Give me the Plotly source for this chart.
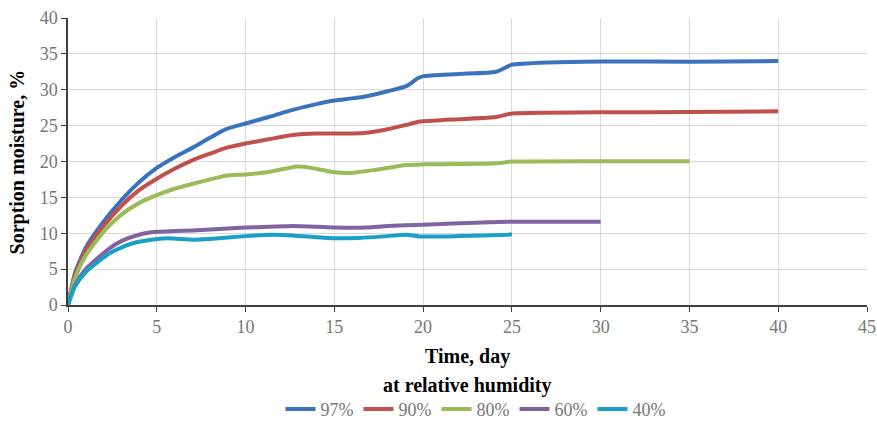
import plotly.graph_objects as go

# Time (days) and sorption moisture (%) for each relative humidity
x97 = [0, 0.4, 1, 2, 3, 4, 5, 6, 7, 8, 8.9, 10, 11.3, 12.66, 14, 15, 16, 16.8, 18, 19.05, 19.7, 20, 22, 24.1, 24.8, 25, 27, 30, 35, 40]
y97 = [0, 4.5, 8.0, 11.6, 14.6, 17.1, 19.1, 20.6, 21.9, 23.3, 24.5, 25.3, 26.2, 27.2, 28.0, 28.5, 28.8, 29.1, 29.8, 30.5, 31.6, 31.9, 32.2, 32.5, 33.3, 33.5, 33.8, 33.95, 33.9, 34.0]

x90 = [0, 0.4, 1, 2, 3, 4, 5, 6, 7.03, 8, 8.9, 10, 11.3, 12.66, 14, 15, 16, 16.8, 18, 19.05, 19.7, 20, 22, 24.1, 24.8, 25, 27, 30, 35, 40]
y90 = [0, 4.2, 7.6, 11.0, 13.8, 16.0, 17.6, 19.0, 20.2, 21.1, 21.9, 22.5, 23.1, 23.7, 23.9, 23.9, 23.9, 24.0, 24.5, 25.1, 25.5, 25.6, 25.9, 26.2, 26.6, 26.7, 26.8, 26.85, 26.9, 27.0]

x80 = [0, 0.4, 1, 2, 3, 4, 5, 6, 7.03, 8, 8.9, 10, 11.2, 12.9, 13.5, 15, 15.9, 17.2, 19.05, 20, 22, 24.1, 24.8, 25, 30, 35]
y80 = [0, 3.8, 6.9, 10.2, 12.6, 14.2, 15.3, 16.2, 16.9, 17.5, 18.0, 18.2, 18.5, 19.3, 19.2, 18.5, 18.4, 18.8, 19.5, 19.6, 19.65, 19.75, 19.95, 20.0, 20.05, 20.05]

x60 = [0, 0.4, 1, 2.34, 3, 4, 5, 6, 7.03, 8.5, 10, 11.3, 12.66, 14, 15, 16.8, 18, 20, 22, 24.8, 30]
y60 = [0, 2.8, 5.0, 7.9, 8.9, 9.8, 10.2, 10.3, 10.4, 10.6, 10.8, 10.9, 11.0, 10.9, 10.8, 10.8, 11.0, 11.2, 11.4, 11.6, 11.6]

x40 = [0, 0.4, 1, 2.34, 3, 3.65, 5, 5.7, 7.03, 7.97, 10, 11.5, 12.66, 14, 15, 16.4, 18, 19.05, 19.8, 22, 24.8, 25]
y40 = [0, 2.6, 4.6, 7.2, 8.0, 8.6, 9.2, 9.3, 9.1, 9.2, 9.6, 9.8, 9.7, 9.45, 9.3, 9.35, 9.6, 9.8, 9.55, 9.6, 9.8, 9.85]

names = ["97%", "90%", "80%", "60%", "40%"]
colors = ["#3A73BB", "#C0504D", "#9BBB59", "#8064A2", "#1A9FC9"]
xs = [x97, x90, x80, x60, x40]
ys = [y97, y90, y80, y60, y40]

x_ticks = [0, 5, 10, 15, 20, 25, 30, 35, 40, 45]
y_ticks = [0, 5, 10, 15, 20, 25, 30, 35, 40]

fig = go.Figure()
for n, c, xv, yv in zip(names, colors, xs, ys):
    fig.add_trace(go.Scatter(x=xv, y=yv, name=n, mode="lines",
                             line=dict(color=c, width=4, shape="spline", smoothing=0.6)))

font_family = "Liberation Serif, Times New Roman, serif"
tick_gray = "#767676"
fig.update_layout(
    width=877, height=421,
    margin=dict(l=68, r=10, t=18, b=116, autoexpand=False),
    plot_bgcolor="white", paper_bgcolor="white",
    font=dict(family=font_family, color=tick_gray, size=18),
    xaxis=dict(range=[0, 45], tickvals=x_ticks, showgrid=True, gridcolor="#D9D9D9", gridwidth=1.3,
               showline=True, linecolor="#404040", linewidth=1.5, ticks="outside", ticklen=5,
               tickcolor="#404040", zeroline=False, automargin=False,
               tickfont=dict(size=18, color=tick_gray)),
    yaxis=dict(range=[0, 40], tickvals=y_ticks, showgrid=True, gridcolor="#D9D9D9", gridwidth=1.3,
               showline=True, linecolor="#404040", linewidth=1.5, ticks="outside", ticklen=5,
               tickcolor="#404040", zeroline=False, automargin=False,
               tickfont=dict(size=18, color=tick_gray)),
    legend=dict(orientation="h", x=0.51, xanchor="center", xref="paper",
                y=0.028, yanchor="middle", yref="container",
                font=dict(family=font_family, size=18, color=tick_gray),
                itemwidth=30, tracegroupgap=0, bgcolor="rgba(0,0,0,0)"),
    annotations=[
        dict(text="<b>Time, day</b>", xref="paper", yref="paper",
             x=0.5, y=-0.178, xanchor="center", yanchor="middle", showarrow=False,
             font=dict(family=font_family, size=20, color="black")),
        dict(text="<b>at relative humidity</b>", xref="paper", yref="paper",
             x=0.5, y=-0.281, xanchor="center", yanchor="middle", showarrow=False,
             font=dict(family=font_family, size=20, color="black")),
        dict(text="<b>Sorption moisture, %</b>", xref="paper", yref="paper",
             x=-0.0626, y=0.5, xanchor="center", yanchor="middle", showarrow=False,
             textangle=-90, font=dict(family=font_family, size=20, color="black")),
    ],
    showlegend=True,
)

fig.write_html("out.html", config={"displayModeBar": False},
               post_script="document.body.style.margin='0px';")
